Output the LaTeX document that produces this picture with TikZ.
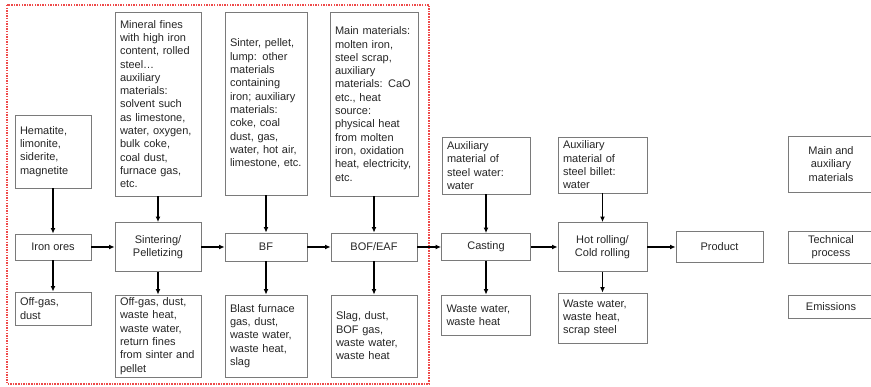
\documentclass[tikz,border=0pt]{standalone}
\usepackage{fontspec}
\setmainfont{Liberation Sans}
\usetikzlibrary{arrows.meta}
\definecolor{boxline}{HTML}{7A7A7A}
\definecolor{txt}{HTML}{262626}
\definecolor{frame}{HTML}{EE4A4A}
\begin{document}
\begin{tikzpicture}[x=1pt,y=-1pt,
  box/.style={draw=boxline, line width=0.9pt, inner xsep=5pt, inner ysep=0pt,
    text=txt, font=\fontsize{11}{13.3}\selectfont},
  mat/.style={box, align=left},
  proc/.style={box, align=center},
  flow/.style={line width=1.6pt, draw=black, -{Latex[length=5.5pt,width=5pt]}},
]
\clip (0,0) rectangle (871,387);
\fill[white] (0,0) rectangle (871,387);

% ironmaking section frame
\draw[frame, line width=1.8pt, dash pattern=on 1.5pt off 1.1pt] (7,5) rectangle (429,384);

% column 1: iron ores
\node[mat, text width=66pt, minimum height=73pt] (hem) at (53,151.5)
  {Hematite,\\limonite,\\siderite,\\magnetite};
\node[proc, minimum width=76pt, minimum height=26pt] (ore) at (53,247) {Iron ores};
\node[mat, text width=66pt, minimum height=33pt] (offa) at (53,308.5)
  {Off-gas,\\dust};

% column 2: sintering / pelletizing
\node[mat, text width=76pt, minimum height=184pt] (fines) at (158,104)
  {Mineral fines\\with high iron\\content, rolled\\steel…\\auxiliary\\materials:\\solvent such\\as limestone,\\water, oxygen,\\bulk coke,\\coal dust,\\furnace gas,\\etc.};
\node[proc, minimum width=86pt, minimum height=49pt] (sint) at (158,247)
  {Sintering/\\Pelletizing};
\node[mat, text width=76pt, minimum height=82pt] (offb) at (158,336)
  {Off-gas, dust,\\waste heat,\\waste water,\\return fines\\from sinter and\\pellet};

% column 3: blast furnace
\node[mat, text width=72pt, minimum height=183pt] (sinter) at (266,103.5)
  {Sinter, pellet,\\lump: other\\materials\\containing\\iron; auxiliary\\materials:\\coke, coal\\dust, gas,\\water, hot air,\\limestone, etc.};
\node[proc, minimum width=82pt, minimum height=28pt] (bf) at (266,247) {BF};
\node[mat, text width=72pt, minimum height=82pt] (bfg) at (266,336)
  {Blast furnace\\gas, dust,\\waste water,\\waste heat,\\slag};

% column 4: steelmaking
\node[mat, text width=78pt, minimum height=184pt] (mainm) at (374,104)
  {Main materials:\\molten iron,\\steel scrap,\\auxiliary\\materials: CaO\\etc., heat\\source:\\physical heat\\from molten\\iron, oxidation\\heat, electricity,\\etc.};
\node[proc, minimum width=86pt, minimum height=28pt] (bof) at (374,247) {BOF/EAF};
\node[mat, text width=76pt, minimum height=82pt] (slag) at (374,336)
  {Slag, dust,\\BOF gas,\\waste water,\\waste heat};

% column 5: casting
\node[mat, text width=78pt, minimum height=57pt] (casaux) at (486,165.5)
  {Auxiliary\\material of\\steel water:\\water};
\node[proc, minimum width=89pt, minimum height=27pt] (cast) at (486,247) {Casting};
\node[mat, text width=79pt, minimum height=40pt] (caswaste) at (486,315)
  {Waste water,\\waste heat};

% column 6: rolling
\node[mat, text width=79pt, minimum height=56pt] (rollaux) at (602.5,165)
  {Auxiliary\\material of\\steel billet:\\water};
\node[proc, minimum width=89pt, minimum height=49pt] (roll) at (602.5,247)
  {Hot rolling/\\Cold rolling};
\node[mat, text width=79pt, minimum height=50pt] (rollwaste) at (602.5,318)
  {Waste water,\\waste heat,\\scrap steel};

% product
\node[proc, minimum width=87pt, minimum height=31pt] (prod) at (719.5,247) {Product};

% legend
\node[proc, minimum width=86pt, minimum height=56pt] (leg1) at (831,164)
  {Main and\\auxiliary\\materials};
\node[proc, minimum width=86pt, minimum height=32pt] (leg2) at (831,247)
  {Technical\\process};
\node[proc, minimum width=86pt, minimum height=23pt] (leg3) at (831,306.5)
  {Emissions};

% inputs and emissions
\draw[flow] (hem) -- (ore);
\draw[flow] (ore) -- (offa);
\draw[flow] (fines) -- (sint);
\draw[flow] (sint) -- (offb);
\draw[flow] (sinter) -- (bf);
\draw[flow] (bf) -- (bfg);
\draw[flow] (mainm) -- (bof);
\draw[flow] (bof) -- (slag);
\draw[flow] (casaux) -- (cast);
\draw[flow] (cast) -- (caswaste);
\draw[flow] (rollaux) -- (roll);
\draw[flow] (roll) -- (rollwaste);

% main process line
\draw[flow] (ore) -- (sint);
\draw[flow] (sint) -- (bf);
\draw[flow] (bf) -- (bof);
\draw[flow] (bof) -- (cast);
\draw[flow] (cast) -- (roll);
\draw[flow] (roll) -- (prod);
\end{tikzpicture}
\end{document}
